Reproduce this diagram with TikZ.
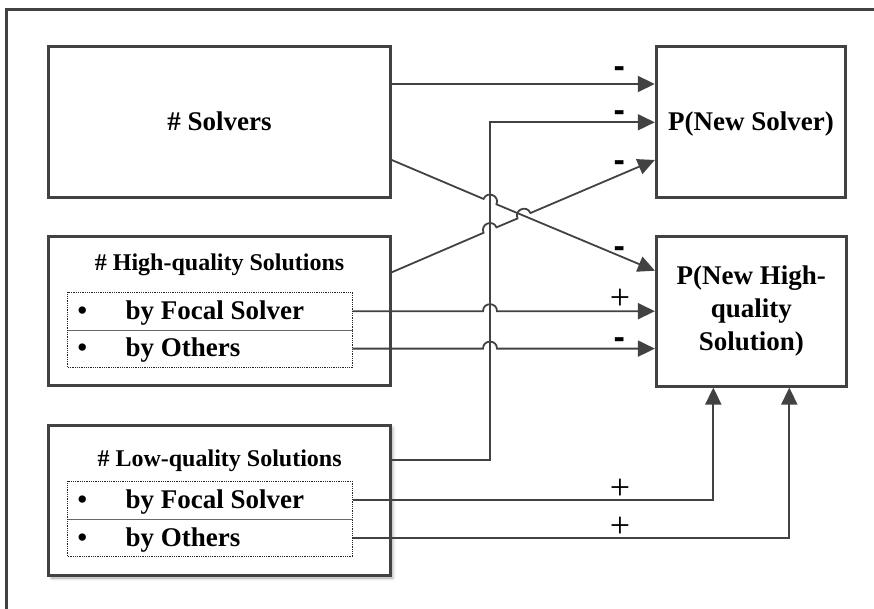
\documentclass[tikz,border=0pt]{standalone}
\usepackage{fontspec}
\setmainfont{Liberation Serif}
\newfontfamily\signsans{Liberation Sans}
\usetikzlibrary{arrows.meta,shadows.blur}

\definecolor{edge}{HTML}{424242}

\begin{document}
\begin{tikzpicture}[x=1pt,y=-1pt,
  box/.style={draw=edge,line width=3pt,rectangle,inner sep=0pt,fill=white},
  bigfont/.style={font=\bfseries\fontsize{27}{33}\selectfont},
  titlefont/.style={font=\bfseries\fontsize{24}{28}\selectfont},
  row/.style={rectangle,inner xsep=10pt,inner ysep=0pt,minimum height=37.4pt,
    text height=20.2pt,text depth=4pt,bigfont},
  listframe/.style={draw=black!85,line width=0.8pt,densely dotted},
  divider/.style={draw=edge!80,line width=1pt},
  conn/.style={draw=edge,line width=1.8pt,-{Triangle[length=17pt,width=16pt]}},
  minus/.style={anchor=base,inner sep=0pt,font=\signsans\bfseries\fontsize{34}{34}\selectfont},
  plus/.style={anchor=base,inner sep=0pt,font=\fontsize{36}{36}\selectfont},
]
\useasboundingbox (0,0) rectangle (874,609);

% outer frame
\draw[edge,line width=3pt] (6.3,630) -- (6.3,9.2) -- (890,9.2);

% left column
\node[box,bigfont,minimum width=341.3pt,minimum height=150.5pt,
      text height=19pt,text depth=1.5pt] (solvers) at (219.6,122.2) {\# Solvers};

\node[box,minimum width=341.3pt,minimum height=149.4pt] (hq) at (219.6,311) {};
\node[titlefont,anchor=base] (hqtitle) at (219.6,270.5) {\# High-quality Solutions};
\node[row] (hqa) at (210,311.2) {\makebox[264.6pt][l]{\makebox[48pt][l]{\textbullet}by Focal Solver}};
\node[row] (hqb) at (210,348.6) {\makebox[264.6pt][l]{\makebox[48pt][l]{\textbullet}by Others}};
\draw[listframe] (hqa.north west) rectangle (hqb.south east);
\draw[divider] (hqa.south west) -- (hqa.south east);

\node[box,minimum width=341.3pt,minimum height=150pt,
      blur shadow={shadow xshift=2.5pt,shadow yshift=-3pt,shadow blur radius=3pt,shadow opacity=35}]
      (lq) at (219.6,500) {};
\node[titlefont,anchor=base] (lqtitle) at (219.6,466.3) {\# Low-quality Solutions};
\node[row] (lqa) at (210,500.3) {\makebox[264.6pt][l]{\makebox[48pt][l]{\textbullet}by Focal Solver}};
\node[row] (lqb) at (210,537.9) {\makebox[264.6pt][l]{\makebox[48pt][l]{\textbullet}by Others}};
\draw[listframe] (lqa.north west) rectangle (lqb.south east);
\draw[divider] (lqa.south west) -- (lqa.south east);

% right column
\node[box,bigfont,minimum width=189.4pt,minimum height=150.5pt,
      text height=19pt,text depth=1.5pt] (nsolver) at (751,122.2) {P(New Solver)};
\node[box,bigfont,minimum width=189.8pt,minimum height=149.3pt,align=center]
      (nhq) at (751.3,311.4) {P(New High-\\quality\\Solution)};

% connectors into P(New Solver)
\draw[conn] (solvers.east |- 0,84) -- (nsolver.west |- 0,84);
\draw[conn] (lq.east |- 0,460) -- (490,460) -- (490,122.3) -- (nsolver.west |- 0,122.3);
\draw[conn] (hq.east |- 0,272.3) -- (483.55,232.80)
  .. controls (479.92,224.20) and (492.82,218.76) .. (496.45,227.36) -- (517.49,218.47)
  .. controls (513.86,209.87) and (526.76,204.43) .. (530.39,213.03) -- (nsolver.west |- 0,160);

% connectors into P(New High-quality Solution)
\draw[conn] (solvers.east |- 0,160) -- (483.54,198.93)
  .. controls (487.12,190.32) and (500.05,195.70) .. (496.46,204.31) -- (nhq.west |- 0,270.7);
\draw[conn] (hqa.east) -- (483,311.2)
  .. controls (483,301.87) and (497,301.87) .. (497,311.2) -- (nhq.west |- hqa.east);
\draw[conn] (hqb.east) -- (483,348.6)
  .. controls (483,339.27) and (497,339.27) .. (497,348.6) -- (nhq.west |- hqb.east);
\draw[conn] (lqa.east) -| ([xshift=-38pt]nhq.south);
\draw[conn] (lqb.east) -| ([xshift=38pt]nhq.south);

% signs
\node[minus] (s1) at (619.3,77.5) {-};
\node[minus] (s2) at (619.3,121.2) {-};
\node[minus] (s3) at (619.3,171.5) {-};
\node[minus] (s4) at (619.3,257.9) {-};
\node[plus]  (s5) at (620,309.5) {+};
\node[minus] (s6) at (619.3,348.7) {-};
\node[plus]  (s7) at (620,499.3) {+};
\node[plus]  (s8) at (620,537.3) {+};
\end{tikzpicture}
\end{document}
